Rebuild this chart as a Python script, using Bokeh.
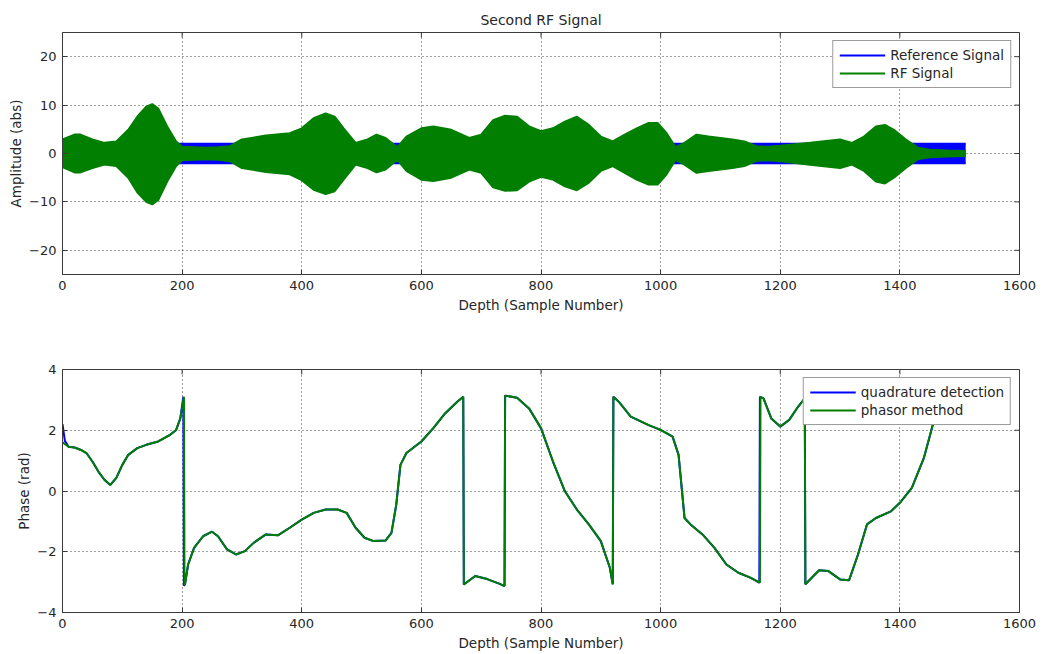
import math
from bokeh.plotting import figure
from bokeh.models import (Range1d, FixedTicker, Legend, LegendItem, ColumnDataSource)
from bokeh.layouts import column
from bokeh.embed import file_html
from bokeh.resources import INLINE

# ---------------- data ----------------
# RF signal envelope (upper / lower extent of the dense oscillation)
rf_x = [0, 20, 30, 50, 70, 90, 110, 125, 140, 150, 160, 175, 190, 200, 220, 240, 260, 280, 300, 340,
        380, 400, 420, 440, 455, 470, 490, 510, 525, 540, 560, 575, 600, 620, 650, 680, 700, 720, 740, 760,
        780, 800, 820, 840, 860, 880, 900, 920, 940, 960, 980, 995, 1010, 1025, 1040, 1060, 1080, 1100, 1120, 1140,
        1160, 1180, 1200, 1250, 1300, 1320, 1340, 1360, 1375, 1390, 1410, 1430, 1450, 1480, 1510]
rf_hi = [2.9, 3.9, 3.9, 2.9, 2.2, 2.5, 4.9, 7.6, 9.7, 10.2, 9.3, 5.6, 2.5, 1.4, 1.3, 1.2, 1.3, 1.5, 2.9, 3.7,
         4.2, 5.2, 7.3, 8.3, 7.6, 5.2, 2.2, 2.9, 3.9, 3.2, 1.3, 3.5, 5.2, 5.6, 4.9, 3.2, 3.9, 6.9, 7.8, 7.6,
         5.6, 4.6, 5.2, 6.6, 7.6, 5.9, 3.5, 2.5, 3.9, 5.2, 6.3, 6.3, 4.2, 1.3, 2.2, 3.9, 3.5, 3.2, 2.9, 2.5,
         1.5, 1.4, 1.6, 2.2, 2.9, 2.2, 3.5, 5.6, 5.9, 4.9, 2.9, 1.2, 0.8, 0.6, 0.5]
rf_lo = [-2.8, -3.9, -3.9, -3.0, -2.3, -2.6, -5.0, -8.0, -10.0, -10.5, -9.6, -5.8, -2.6, -1.4, -1.3, -1.2, -1.3, -1.6, -3.0, -3.8,
         -4.3, -5.5, -7.5, -8.4, -7.8, -5.4, -2.3, -3.0, -3.9, -3.3, -1.3, -3.6, -5.4, -5.7, -5.0, -3.3, -4.0, -7.0, -7.7, -7.6,
         -5.8, -4.8, -5.4, -6.8, -7.6, -6.0, -3.6, -2.6, -4.0, -5.4, -6.4, -6.4, -4.3, -1.3, -2.3, -4.0, -3.6, -3.3, -3.0, -2.6,
         -1.5, -1.4, -1.6, -2.3, -3.0, -2.3, -3.6, -5.8, -6.2, -5.0, -3.0, -1.2, -0.8, -0.6, -0.5]

# Reference signal envelope (constant amplitude)
ref_x = [0, 1510]
ref_hi = [2.0, 2.0]
ref_lo = [-2.0, -2.0]

# Phase: phasor method
phasor_x = [0, 10, 20, 30, 40, 50, 60, 70, 80, 90, 100, 110, 125, 140, 160, 180, 190, 197, 203,
            204, 205, 210, 220, 235, 250, 260, 275, 290, 305, 320, 340, 360, 380, 400, 420, 440, 460, 475,
            490, 505, 520, 540, 550, 558, 565, 575, 600, 620, 640, 660, 670,
            671, 690, 710, 730, 739,
            740, 760, 780, 800, 820, 840, 860, 880, 900, 915, 920,
            921, 930, 950, 980, 1000, 1020, 1030, 1040, 1050, 1070, 1090, 1110, 1130, 1150, 1166,
            1167, 1172, 1185, 1200, 1215, 1230, 1241,
            1242, 1265, 1280, 1300, 1315, 1330, 1345, 1360, 1385, 1400, 1420, 1440, 1455, 1465]
phasor_y = [1.6, 1.46, 1.43, 1.36, 1.25, 0.97, 0.64, 0.37, 0.2, 0.43, 0.86, 1.19, 1.41, 1.52, 1.63, 1.85, 2.01, 2.39, 3.1,
            -3.1, -3.05, -2.42, -1.87, -1.49, -1.34, -1.49, -1.92, -2.09, -1.98, -1.7, -1.43, -1.46, -1.21, -0.94, -0.72, -0.61, -0.61, -0.72,
            -1.21, -1.54, -1.65, -1.63, -1.38, -0.45, 0.86, 1.25, 1.63, 2.07, 2.56, 2.94, 3.1,
            -3.08, -2.8, -2.9, -3.05, -3.13,
            3.14, 3.07, 2.72, 2.07, 0.97, -0.01, -0.61, -1.1, -1.65, -2.52, -3.07,
            3.1, 2.94, 2.45, 2.17, 2.01, 1.79, 1.19, -0.89, -1.1, -1.43, -1.87, -2.42, -2.69, -2.85, -3.02,
            3.1, 3.05, 2.39, 2.12, 2.34, 2.78, 3.05,
            -3.07, -2.61, -2.63, -2.91, -2.94, -2.09, -1.1, -0.89, -0.67, -0.39, 0.1, 1.08, 2.17, 2.6]

# Phase: quadrature detection
quad_x = [0, 4, 10, 20, 30, 40, 50, 60, 70, 80, 90, 100, 110, 125, 140, 160, 180, 190, 197, 202,
          203, 205, 210, 220, 235, 250, 260, 275, 290, 305, 320, 340, 360, 380, 400, 420, 440, 460, 475,
          490, 505, 520, 540, 550, 558, 565, 575, 600, 620, 640, 660, 670,
          671, 690, 710, 730, 739,
          740, 760, 780, 800, 820, 840, 860, 880, 900, 915, 920,
          921, 930, 950, 980, 1000, 1020, 1030, 1040, 1050, 1070, 1090, 1110, 1130, 1150, 1165,
          1166, 1172, 1185, 1200, 1215, 1230, 1241,
          1242, 1265, 1280, 1300, 1315, 1330, 1345, 1360, 1385, 1400, 1420, 1440, 1455, 1465]
quad_y = [2.2, 1.65, 1.46, 1.43, 1.36, 1.25, 0.97, 0.64, 0.37, 0.2, 0.43, 0.86, 1.19, 1.41, 1.52, 1.63, 1.85, 2.01, 2.39, 3.1,
          -3.12, -3.05, -2.42, -1.87, -1.49, -1.34, -1.49, -1.92, -2.09, -1.98, -1.7, -1.43, -1.46, -1.21, -0.94, -0.72, -0.61, -0.61, -0.72,
          -1.21, -1.54, -1.65, -1.63, -1.38, -0.45, 0.86, 1.25, 1.63, 2.07, 2.56, 2.94, 3.1,
          -3.08, -2.8, -2.9, -3.05, -3.13,
          3.14, 3.07, 2.72, 2.07, 0.97, -0.01, -0.61, -1.1, -1.65, -2.52, -3.07,
          3.1, 2.94, 2.45, 2.17, 2.01, 1.79, 1.19, -0.89, -1.1, -1.43, -1.87, -2.42, -2.69, -2.85, -3.02,
          3.1, 3.05, 2.39, 2.12, 2.34, 2.78, 3.05,
          -3.07, -2.61, -2.63, -2.91, -2.94, -2.09, -1.1, -0.89, -0.67, -0.39, 0.1, 1.08, 2.17, 2.6]

x_ticks = [0, 200, 400, 600, 800, 1000, 1200, 1400, 1600]
amp_ticks = [-20, -10, 0, 10, 20]
phase_ticks = [-4, -2, 0, 2, 4]

TITLE = "Second RF Signal"
XLABEL = "Depth (Sample Number)"

# ---------------- styling ----------------
FONT = "DejaVu Sans"
TXT = "#262626"
AX = "#3a3a3a"
GREEN = "#007f00"
BLUE = "#0000ff"


def style(p, yticks):
    p.xaxis.ticker = FixedTicker(ticks=x_ticks)
    p.yaxis.ticker = FixedTicker(ticks=yticks)
    for ax in p.xaxis + p.yaxis:
        ax.major_tick_in = 5
        ax.major_tick_out = 0
        ax.minor_tick_line_color = None
        ax.axis_line_color = AX
        ax.major_tick_line_color = AX
        ax.major_label_text_font = FONT
        ax.major_label_text_font_size = "13px"
        ax.major_label_text_color = TXT
        ax.axis_label_text_font = FONT
        ax.axis_label_text_font_size = "13.5px"
        ax.axis_label_text_font_style = "normal"
        ax.axis_label_text_color = TXT
    p.xaxis.major_label_standoff = 6
    p.xaxis.axis_label_standoff = 4
    p.yaxis.major_label_standoff = 6
    p.yaxis.axis_label_standoff = 2
    # mirrored tick marks on the top and right edges of the box
    xr, yr = p.x_range, p.y_range
    p.ray(x=x_ticks, y=[yr.end] * len(x_ticks), length=5, length_units="screen",
          angle=-math.pi / 2, line_color=AX, line_width=1)
    p.ray(x=[xr.end] * len(yticks), y=yticks, length=5, length_units="screen",
          angle=math.pi, line_color=AX, line_width=1)
    p.xgrid.ticker = FixedTicker(ticks=x_ticks)
    p.ygrid.ticker = FixedTicker(ticks=yticks)
    p.grid.grid_line_color = "#404040"
    p.grid.grid_line_dash = "1 3"
    p.grid.grid_line_width = 1
    p.outline_line_color = AX
    p.outline_line_width = 1
    p.background_fill_color = "white"
    p.border_fill_color = "white"


def make_legend(p, items):
    lg = Legend(items=items, location="top_right")
    lg.margin = 8
    lg.padding = 6
    lg.spacing = 2
    lg.label_height = 16
    lg.glyph_height = 16
    lg.glyph_width = 46
    lg.label_standoff = 5
    lg.label_text_font = FONT
    lg.label_text_font_size = "13.5px"
    lg.label_text_color = TXT
    lg.border_line_color = AX
    lg.border_line_width = 1
    lg.background_fill_color = "white"
    lg.background_fill_alpha = 1
    p.add_layout(lg, "center")


# ---------------- top: RF signal ----------------
p1 = figure(frame_width=957, frame_height=242, output_backend="svg", toolbar_location=None,
            x_range=Range1d(0, 1600), y_range=Range1d(-25, 25),
            min_border_left=62, min_border_right=27, min_border_top=32, min_border_bottom=56,
            x_axis_label=XLABEL, y_axis_label="Amplitude (abs)")
p1.title.text = TITLE
p1.title.align = "center"
p1.title.text_font = FONT
p1.title.text_font_size = "14px"
p1.title.text_font_style = "normal"
p1.title.text_color = TXT
p1.title.standoff = 9

ref_src = ColumnDataSource(dict(x=ref_x, hi=ref_hi, lo=ref_lo))
rf_src = ColumnDataSource(dict(x=rf_x, hi=rf_hi, lo=rf_lo))
p1.varea(x="x", y1="lo", y2="hi", source=ref_src, fill_color=BLUE)
ref_line = p1.line(x="x", y="hi", source=ref_src, line_color=BLUE, line_width=2)
p1.line(x="x", y="lo", source=ref_src, line_color=BLUE, line_width=2)
p1.varea(x="x", y1="lo", y2="hi", source=rf_src, fill_color=GREEN)
rf_line = p1.line(x="x", y="hi", source=rf_src, line_color=GREEN, line_width=2)
p1.line(x="x", y="lo", source=rf_src, line_color=GREEN, line_width=2)
style(p1, amp_ticks)
make_legend(p1, [LegendItem(label="Reference Signal", renderers=[ref_line]),
                 LegendItem(label="RF Signal", renderers=[rf_line])])

# ---------------- bottom: phase ----------------
p2 = figure(frame_width=957, frame_height=243, output_backend="svg", toolbar_location=None,
            x_range=Range1d(0, 1600), y_range=Range1d(-4, 4),
            min_border_left=62, min_border_right=27, min_border_top=39, min_border_bottom=34,
            x_axis_label=XLABEL, y_axis_label="Phase (rad)")
q = p2.line(quad_x, quad_y, line_color=BLUE, line_width=2)
ph = p2.line(phasor_x, phasor_y, line_color=GREEN, line_width=2)
style(p2, phase_ticks)
make_legend(p2, [LegendItem(label="quadrature detection", renderers=[q]),
                 LegendItem(label="phasor method", renderers=[ph])])

layout = column(p1, p2, spacing=0)
open("out.html", "w").write(file_html(layout, INLINE))
